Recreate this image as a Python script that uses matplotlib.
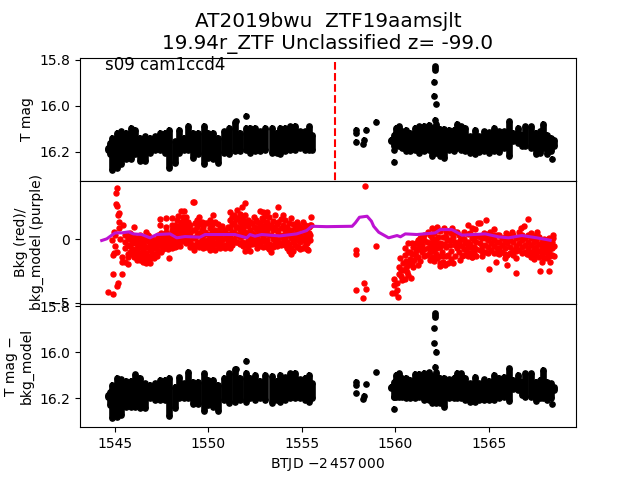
import matplotlib
matplotlib.use('Agg')
import matplotlib.pyplot as plt

# dense band of the light curve, read as columns: time, faint and bright edge of the cloud
band_t1 = [1544.62, 1544.76, 1544.88, 1545.12, 1545.36, 1545.61, 1545.86, 1546.09, 1546.36, 1546.63, 1546.89,
           1547.16, 1547.43, 1547.7, 1547.93, 1548.23, 1548.46, 1548.71, 1548.94, 1549.21, 1549.47, 1549.77,
           1550.01, 1550.28, 1550.54, 1550.85, 1551.13, 1551.43, 1551.7, 1552.0, 1552.23, 1552.5, 1552.77,
           1553.03, 1553.39, 1553.66, 1553.83, 1554.1, 1554.37, 1554.63, 1554.9, 1555.16, 1555.4, 1555.56]
band_t2 = [1559.79, 1559.91, 1560.03, 1560.18, 1560.35, 1560.57, 1560.8, 1561.03, 1561.28, 1561.51, 1561.78,
           1561.96, 1562.17, 1562.4, 1562.61, 1562.88, 1563.11, 1563.29, 1563.5, 1563.74, 1564.0, 1564.23,
           1564.48, 1564.71, 1564.98, 1565.28, 1565.51, 1565.78, 1566.05, 1566.26, 1566.53, 1566.76, 1566.94,
           1567.24, 1567.51, 1567.74, 1567.88, 1568.09, 1568.33, 1568.45]

tmag_hi1 = [16.183, 16.162, 16.14, 16.118, 16.111, 16.118, 16.096, 16.104, 16.14, 16.133, 16.14, 16.133, 16.118,
            16.118, 16.104, 16.154, 16.106, 16.14, 16.086, 16.118, 16.118, 16.086, 16.118, 16.118, 16.14, 16.111,
            16.096, 16.072, 16.118, 16.096, 16.096, 16.096, 16.111, 16.096, 16.096, 16.118, 16.096, 16.096, 16.089,
            16.086, 16.111, 16.111, 16.089, 16.125]
tmag_lo1 = [16.19, 16.211, 16.279, 16.269, 16.255, 16.233, 16.233, 16.211, 16.24, 16.24, 16.204, 16.19, 16.19,
            16.204, 16.269, 16.248, 16.204, 16.19, 16.19, 16.226, 16.211, 16.255, 16.226, 16.233, 16.248, 16.204,
            16.211, 16.197, 16.197, 16.19, 16.204, 16.197, 16.197, 16.19, 16.204, 16.204, 16.211, 16.197, 16.19,
            16.19, 16.182, 16.19, 16.19, 16.19]
tmag_hi2 = [16.147, 16.125, 16.096, 16.089, 16.111, 16.106, 16.118, 16.096, 16.089, 16.086, 16.082, 16.096, 16.077,
            16.101, 16.101, 16.106, 16.104, 16.077, 16.089, 16.096, 16.133, 16.104, 16.133, 16.111, 16.115, 16.096,
            16.111, 16.111, 16.067, 16.118, 16.096, 16.125, 16.089, 16.089, 16.118, 16.111, 16.077, 16.125, 16.14,
            16.147]
tmag_lo2 = [16.153, 16.175, 16.175, 16.175, 16.182, 16.197, 16.197, 16.19, 16.204, 16.197, 16.19, 16.216, 16.204,
            16.219, 16.226, 16.19, 16.197, 16.182, 16.19, 16.197, 16.204, 16.211, 16.201, 16.197, 16.204, 16.197,
            16.201, 16.182, 16.216, 16.153, 16.16, 16.175, 16.175, 16.182, 16.211, 16.204, 16.182, 16.211, 16.197,
            16.175]

corr_hi1 = [16.186, 16.171, 16.142, 16.113, 16.118, 16.123, 16.123, 16.096, 16.113, 16.135, 16.142, 16.135, 16.121,
            16.121, 16.113, 16.15, 16.109, 16.135, 16.084, 16.128, 16.128, 16.092, 16.121, 16.121, 16.142, 16.113,
            16.092, 16.074, 16.113, 16.089, 16.113, 16.099, 16.123, 16.099, 16.103, 16.123, 16.099, 16.109, 16.092,
            16.089, 16.118, 16.113, 16.099, 16.135]
corr_lo1 = [16.193, 16.229, 16.287, 16.28, 16.273, 16.237, 16.237, 16.237, 16.244, 16.244, 16.2, 16.208, 16.208,
            16.208, 16.277, 16.244, 16.2, 16.2, 16.2, 16.225, 16.225, 16.254, 16.229, 16.237, 16.254, 16.208,
            16.222, 16.215, 16.208, 16.215, 16.2, 16.208, 16.2, 16.208, 16.222, 16.208, 16.215, 16.208, 16.2,
            16.2, 16.2, 16.208, 16.215, 16.2]
corr_hi2 = [16.15, 16.128, 16.099, 16.092, 16.113, 16.113, 16.121, 16.094, 16.094, 16.089, 16.087, 16.103, 16.084,
            16.113, 16.113, 16.118, 16.113, 16.089, 16.092, 16.113, 16.135, 16.106, 16.135, 16.118, 16.123, 16.099,
            16.113, 16.106, 16.07, 16.121, 16.099, 16.128, 16.092, 16.092, 16.128, 16.121, 16.077, 16.128, 16.135,
            16.15]
corr_lo2 = [16.157, 16.193, 16.193, 16.193, 16.193, 16.2, 16.2, 16.2, 16.193, 16.208, 16.208, 16.222, 16.222,
            16.222, 16.237, 16.2, 16.2, 16.2, 16.2, 16.208, 16.215, 16.215, 16.208, 16.208, 16.208, 16.208,
            16.2, 16.193, 16.21, 16.161, 16.164, 16.186, 16.193, 16.193, 16.21, 16.2, 16.2, 16.208, 16.2,
            16.164]

# separate points outside the dense band
extra_t = [1552.0, 1551.48, 1557.9, 1557.9, 1557.9, 1558.31, 1558.25, 1558.43, 1558.97, 1559.93, 1559.91,
           1562.13, 1562.13, 1562.13, 1562.06, 1562.06, 1562.17, 1562.13, 1568.36]
tmag_extra = [16.042, 16.067, 16.103, 16.118, 16.158, 16.147, 16.168, 16.103, 16.071, 16.245, 16.193,
              15.828, 15.835, 15.842, 15.896, 15.958, 15.994, 16.06, 16.229]
corr_extra = [16.038, 16.073, 16.128, 16.143, 16.179, 16.19, 16.205, 16.14, 16.088, 16.247, 16.194,
              15.831, 15.838, 15.846, 15.896, 15.961, 15.998, 16.063, 16.225]

# background flux, column by column where the cloud is dense
bkg_cols = [
    (1545.56, [.34, -.19, -.71]), (1545.83, [.47, 0, -.53, -.97]), (1546.06, [.94, .21, -.32, -.84, -1.37]),
    (1546.27, [.08, -.45, -.97, -1.5]), (1546.49, [.21, -.32, -.84, -1.37, -1.76]),
    (1546.66, [.6, -.05, -.58, -1.1, -1.89]), (1546.9, [.21, -.32, -.84, -1.5, -1.84]),
    (1547.13, [-.19, -.71, -1.24, -1.5]), (1547.34, [.34, -.32, -.89]), (1547.45, [1.57, 1.13]),
    (1547.61, [.21, -.32, -.79]), (1547.75, [1.65, .99, .6]), (1547.91, [.08, -.58, -1.45]),
    (1548.05, [1.65, 1.13, .73, -.32, -.71]), (1548.23, [1.13, .47, -.19, -.58]),
    (1548.41, [1.84, 1, .34, -.32]), (1548.55, [2.26, 1.39, .73, .08]), (1548.73, [2.2, 1.52, 1, .34]),
    (1548.94, [1.39, .86, .34, -.05]), (1549.17, [2.96, .73, .08, -.45]), (1549.26, [2.91, -.84]),
    (1549.39, [1.52, 1, .34, -.32]), (1549.65, [1.39, .73, .08, -.45]), (1549.83, [1.26, .6, -.19, -.58]),
    (1550.1, [1.52, .86, .21, -.32, -.84]), (1550.28, [1.91, 1.26, .47, -.45]),
    (1550.37, [1.39, .73, .21, -.32, -.84]), (1550.63, [.86, .21, -.32, -.71]),
    (1550.9, [.73, .08, -.45, -.71]), (1551.17, [2.18, 1.52, .86, .21, -.32, -.71]),
    (1551.38, [1.91, 1.26, .6, -.05]), (1551.56, [2.31, 1.65, 1, .34, -.19]),
    (1551.79, [2.57, 1.78, 1.13, .47, -.19]), (1551.97, [2.83, 1.91, 1.26, .6, -.32, -.92]),
    (1552.24, [1.39, .73, .08, -.32, -.92]), (1552.45, [1.78, 1, .34, -.19]),
    (1552.63, [1.39, .73, .08, -.71]), (1552.77, [2.23, 1.26, .47, -.32]),
    (1552.95, [2.18, 1.52, .86, .21, -.58]), (1553.16, [2.12, 1.39, .73, -.05, -.58]),
    (1553.34, [1.13, .34, -.45, -.97]), (1553.59, [1.91, 1, .21, -.32]), (1553.75, [2.52, 1.39, .47, -.19]),
    (1554.01, [1.91, 1.13, .34, -.19]), (1554.23, [1, .34, -.19, -.71]),
    (1554.42, [1.65, .73, .08, -.71, -1.16]), (1554.64, [.86, .21, -.45]), (1554.82, [1.13, .47, -.05, -.58]),
    (1555.05, [1.39, .73, .08, -.71]), (1555.26, [.86, .21, -.32, -.79]), (1555.44, [1.13, .34, -.05]),
    (1555.49, [1.73, 1.13]), (1555.35, [-.84]),
    (1564.18, [-.05, -.58, -1.1]), (1564.5, [.21, -.32, -.84]), (1564.8, [.08, -.45, -.97]),
    (1565.1, [.21, -.32, -.84]), (1565.42, [.34, -.19, -.71, -1.1]), (1565.69, [.08, -.45, -.97]),
    (1565.99, [.21, -.32, -1.24]), (1566.31, [.34, -.19, -.84, -1.24]), (1566.63, [.21, -.32, -.84]),
    (1566.94, [.08, -.45, -.97]), (1567.24, [.08, -.45, -.97, -1.37]), (1567.52, [-.05, -.58, -1.1]),
    (1567.83, [-.19, -.71, -1.24]), (1568.09, [-.05, -.58, -1.1, -1.5]), (1568.36, [-.19, -.71, -1.24]),
]
# second pass over the same clouds, in between the columns above
bkg_cols2 = [
    (1545.7, [.1, -.45, -1.2]), (1545.95, [.3, -.25, -.75, -1.2]), (1546.17, [-.15, -.7, -1.2, -1.65]),
    (1546.38, [.3, -.15, -.65, -1.15, -1.6]), (1546.58, [.05, -.55, -1.1, -1.55]),
    (1546.78, [.3, -.15, -.6, -1.3, -1.65]), (1547.02, [0, -.5, -1.05, -1.35]), (1547.24, [.05, -.5, -1.05, -1.3]),
    (1547.5, [.5, -.1, -.55, -1.0]), (1547.68, [.4, -.05, -.55]), (1547.83, [.35, -.3, -.8]),
    (1547.98, [.45, -.1, -.4]), (1548.14, [.9, .4, 0, -.45]), (1548.32, [1.5, .75, .1, -.55]),
    (1548.48, [1.1, .55, -.1, -.5]), (1548.64, [1.75, 1.15, .55, -.15]), (1548.84, [1.75, 1.15, .6, .1, -.3]),
    (1549.05, [1.15, .5, -.2, -.65]), (1549.3, [1.3, .75, .1, -.55]), (1549.52, [1.75, 1.2, .5, -.2, -.65]),
    (1549.74, [1.0, .35, -.25, -.7]), (1549.95, [1.25, .45, -.05, -.5, -.65]), (1550.19, [1.15, .55, 0, -.55]),
    (1550.5, [1.2, .5, -.05, -.55]), (1550.76, [1.05, .5, -.1, -.5]), (1551.04, [.95, .4, -.15, -.5]),
    (1551.28, [1.75, 1.2, .55, 0, -.45]), (1551.47, [1.6, 1.0, .35, -.25]), (1551.68, [1.95, 1.35, .7, .15, -.4]),
    (1551.88, [1.5, .9, .25, -.5]), (1552.1, [1.55, 1.05, .4, -.1, -.6]), (1552.35, [1.25, .5, .05, -.4]),
    (1552.54, [1.55, .9, .2, -.4]), (1552.7, [1.0, .4, -.2, -.55]), (1552.86, [1.7, 1.0, .55, -.1]),
    (1553.05, [1.8, 1.15, .45, -.25]), (1553.25, [1.75, 1.0, .35, -.35, -.8]), (1553.46, [1.45, .7, .05, -.65]),
    (1553.67, [1.2, .7, -.05, -.5]), (1553.88, [1.6, .85, .15, -.45]), (1554.12, [1.5, .7, .1, -.45]),
    (1554.32, [1.25, .55, -.4, -.9]), (1554.53, [1.2, .4, -.2, -.9]), (1554.73, [1.35, .65, .05, -.6]),
    (1554.93, [.95, .3, -.25, -.8]), (1555.15, [1.15, .5, -.15, -.55]), (1555.36, [1.0, .5, -.1]),
    (1560.3, [-2.4, -2.9]), (1560.55, [-1.7, -2.3]), (1560.65, [-1.0, -1.9, -2.8]), (1560.88, [-.3, -1.2, -1.9]),
    (1561.1, [-.3, -.95, -1.35]), (1561.33, [.1, -.3, -.8, -1.7]), (1561.55, [.35, -.1, -.75, -1.3]),
    (1561.85, [.3, -.3, -1.0, -1.6]), (1562.05, [.5, -.2, -.95, -1.7]), (1562.15, [.7, .05, -.35, -1.15]),
    (1562.4, [.65, -.3, -.6, -1.3, -1.9]), (1562.55, [.2, -.35, -1.35, -1.8]), (1562.73, [.55, .2, -.65, -1.3]),
    (1562.95, [.5, -.05, -.9, -1.55]), (1563.18, [.55, -.25, -.45, -1.3]), (1563.38, [.3, -.4, -1.0]),
    (1563.55, [.2, -.55, -1.3]), (1563.68, [.55, .05, -.8, -1.25]), (1563.88, [.4, -.2, -.6, -1.35]),
    (1564.0, [.5, -.35, -1.05]),
    (1564.3, [.25, -.25, -.8, -1.3]), (1564.65, [.1, -.55, -.95, -1.3]), (1564.95, [.45, -.1, -.6, -1.1]),
    (1565.25, [.35, -.05, -.55, -1.05]), (1565.55, [.3, -.2, -.7, -1.2]), (1565.85, [.2, -.15, -.7, -1.15]),
    (1566.15, [.3, -.05, -.6, -1.05]), (1566.45, [.1, -.5, -.95, -1.45]), (1566.78, [.3, -.1, -.6, -1.05]),
    (1567.1, [.3, -.2, -.7, -1.2]), (1567.38, [.25, -.25, -.8, -1.25]), (1567.68, [.2, -.35, -.9, -1.4]),
    (1567.96, [.05, -.4, -.95, -1.45]), (1568.23, [.1, -.4, -.9, -1.3]),
]
bkg_pts = [
    (1545.15, 4.0), (1545.08, 3.62), (1545.06, 2.75), (1545.12, 2.62), (1545.22, 2.05), (1545.2, 1.91),
    (1545.21, 1.34), (1545.45, 1.13), (1545.24, .86), (1544.99, .6), (1545.03, .34), (1544.85, -.05),
    (1545.29, 0), (1545.03, -.53), (1545.12, -.97), (1544.94, -1.1), (1544.89, -1.24), (1545.38, -1.37),
    (1545.74, -1.42), (1545.38, -1.79), (1545.53, -1.81), (1545.74, -1.97), (1544.89, -2.76), (1545.42, -2.76),
    (1545.17, -3.47), (1545.15, -3.68), (1544.67, -4.15), (1544.89, -4.33),
    (1558.4, 4.17), (1557.9, -.81), (1557.9, -1.15), (1558.97, -.55), (1557.9, -4.02), (1558.34, -3.46),
    (1558.43, -3.94), (1558.27, -4.65),
    (1560.13, -4.52), (1559.84, -4.25), (1559.98, -4.25), (1559.93, -3.6), (1560.07, -3.99), (1559.93, -3.15),
    (1560.11, -3.41), (1560.34, -3.2), (1560.2, -2.73), (1560.52, -3.13), (1560.84, -3.02), (1560.2, -2.2),
    (1560.43, -2.42), (1560.61, -2.55), (1560.25, -1.5), (1560.43, -1.89), (1560.7, -2.02), (1561.23, -2.02),
    (1560.96, -2.2), (1560.52, -.71), (1560.66, -.32), (1560.52, -1.24), (1560.78, -.97), (1560.78, -1.58),
    (1561.02, -1.63), (1560.96, -.58), (1561.23, -.05), (1561.23, -.71), (1561.23, -1.42), (1561.44, .21),
    (1561.44, -.45), (1561.44, -.97), (1561.67, -1.24), (1561.67, -.19), (1561.76, .6), (1561.94, .86),
    (1561.94, .08), (1561.94, -.58), (1561.94, -1.37), (1562.21, 1), (1562.3, .21), (1562.21, -1.5),
    (1562.39, -2.1), (1562.62, .86), (1562.74, -.05), (1562.48, -.97), (1562.65, -2.02), (1562.83, -1.89),
    (1563.01, .86), (1563.1, .21), (1562.92, -.45), (1562.83, -1.24), (1563.1, -1.89), (1563.28, .6),
    (1563.45, -.05), (1563.28, -.71), (1563.45, -1.63), (1563.72, -.32), (1563.9, 1.13), (1563.81, -.97),
    (1564.11, .86), (1564.11, .08), (1564.08, -.71), (1564.11, -1.37), (1561.76, -.71), (1562.21, -.71),
    (1562.65, -.45),
    (1564.82, 1.52), (1564.53, 1.31), (1564.39, 1.26), (1564.28, .79), (1567.06, 1.57), (1566.88, 1.05),
    (1566.7, .86), (1566.58, .6), (1565.28, .79), (1565.07, .6), (1564.71, .47), (1565.92, .52), (1566.22, .55),
    (1567.24, .47), (1567.56, .6), (1567.56, .34), (1568.41, .34), (1568.41, .08), (1568.45, -.53),
    (1564.98, -2.36), (1565.39, -1.79), (1565.99, -2.02), (1566.42, -2.68), (1567.75, -2.52), (1568.23, -2.52),
    (1565.83, -1.5), (1564.09, -1.42), (1567.38, -1.58), (1567.83, -1.76), (1568.27, -1.76), (1568.48, -1.31),
    (1567.02, -1.16),
]

model_t = [1544.31, 1544.58, 1544.85, 1545.03, 1545.38, 1545.74, 1546.0, 1546.45, 1546.89, 1547.25, 1547.96,
           1548.32, 1548.76, 1549.56, 1549.83, 1550.63, 1551.43, 1552.06, 1552.23, 1552.5, 1552.86, 1553.83,
           1554.72, 1555.26, 1555.53, 1556.33, 1557.69, 1557.86, 1558.08, 1558.49, 1558.72, 1558.84, 1559.11,
           1559.64, 1560.09, 1560.27, 1560.53, 1561.15, 1562.13, 1562.4, 1563.02, 1563.56, 1564.8, 1565.51,
           1566.05, 1566.76, 1567.56, 1568.27]
model_bkg = [-.1, .03, .32, .5, .5, .58, .42, .37, .11, .37, .42, .11, .21, .16, .37, .37, .37, .11, .37, .24, .37,
             .26, .42, .68, 1.02, .99, 1.02, 1.29, 1.73, 1.81, 1.42, 1.02, .55, .11, .29, .19, .42, .37, .5, .76,
             .76, .32, .42, .19, .11, .29, .11, -.08]

discovery_t = 1556.78

title = 'AT2019bwu  ZTF19aamsjlt\n19.94r_ZTF Unclassified z= -99.0'
sector_label = 's09 cam1ccd4'

fig, (ax1, ax2, ax3) = plt.subplots(3, 1, sharex=True)
fig.subplots_adjust(hspace=0)


def draw_lc(ax, hi1, lo1, hi2, lo2, extra):
    for t, hi, lo in [(band_t1, hi1, lo1), (band_t2, hi2, lo2)]:
        ax.vlines(t, hi, lo, color='k', lw=4.8)
        ax.errorbar(t, hi, yerr=0.012, fmt='o', ms=3.8, color='k', elinewidth=1.4)
        ax.errorbar(t, lo, yerr=0.012, fmt='o', ms=3.8, color='k', elinewidth=1.4)
    ax.errorbar(extra_t, extra, yerr=0.012, fmt='o', ms=3.8, color='k', elinewidth=1.4)
    ax.set_ylim(16.326, 15.79)
    ax.set_yticks([15.8, 16.0, 16.2])
    ax.set_yticklabels(['15.8', '16.0', '16.2'])


draw_lc(ax1, tmag_hi1, tmag_lo1, tmag_hi2, tmag_lo2, tmag_extra)
ax1.vlines(discovery_t, 15.81, 16.326, color='r', ls='--', lw=1.5)
ax1.text(1544.5, 15.845, sector_label, fontsize=12)
ax1.set_ylabel('T mag')
ax1.set_title(title, fontsize=14.4)

all_cols = bkg_cols + bkg_cols2
bkg_t = [t for t, vals in all_cols for v in vals] + [p[0] for p in bkg_pts]
bkg_val = [v for t, vals in all_cols for v in vals] + [p[1] for p in bkg_pts]
ax2.plot(bkg_t, bkg_val, 'o', color='r', ms=3.6)
ax2.plot(model_t, model_bkg, color='#bd12d2', lw=2.2)
ax2.set_ylim(-5.1, 4.6)
ax2.set_yticks([-5, 0])
ax2.set_ylabel('Bkg (red)/\nbkg_model (purple)')

draw_lc(ax3, corr_hi1, corr_lo1, corr_hi2, corr_lo2, corr_extra)
ax3.set_ylabel('T mag \u2212\nbkg_model')
ax3.set_xlabel(r'BTJD $-2\,457\,000$')

ax3.set_xlim(1543.15, 1569.65)
ax3.set_xticks([1545, 1550, 1555, 1560, 1565])
ax1.tick_params(bottom=False, labelbottom=False)
ax2.tick_params(bottom=False, labelbottom=False)

fig.savefig('out.png', dpi=100)
